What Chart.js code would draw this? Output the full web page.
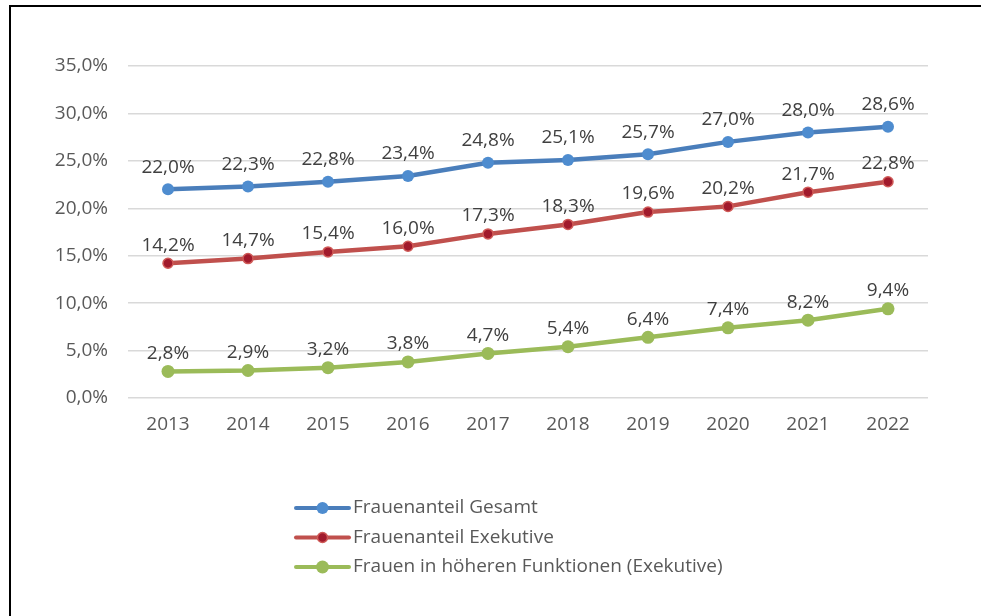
<!DOCTYPE html>
<html>
<head>
<meta charset="utf-8">
<script src="https://cdn.jsdelivr.net/npm/chart.js@4/dist/chart.umd.min.js"></script>
<style>
  html, body { margin: 0; padding: 0; background: #fff; }
  #wrap { position: relative; width: 981px; height: 616px; overflow: hidden; }
  #frame { position: absolute; left: 9px; top: 5px; width: 990px; height: 700px;
           border-top: 2px solid #000; border-left: 2px solid #000; }
  canvas { position: absolute; left: 0; top: 0; }
</style>
</head>
<body>
<div id="wrap">
  <div id="frame"></div>
  <canvas id="chart" width="981" height="616"></canvas>
</div>
<script>
// Daten (Prozent)
const years = ['2013', '2014', '2015', '2016', '2017', '2018', '2019', '2020', '2021', '2022'];
const gesamt = [22.0, 22.3, 22.8, 23.4, 24.8, 25.1, 25.7, 27.0, 28.0, 28.6];
const exekutive = [14.2, 14.7, 15.4, 16.0, 17.3, 18.3, 19.6, 20.2, 21.7, 22.8];
const hoehere = [2.8, 2.9, 3.2, 3.8, 4.7, 5.4, 6.4, 7.4, 8.2, 9.4];
const seriesNames = ['Frauenanteil Gesamt', 'Frauenanteil Exekutive', 'Frauen in höheren Funktionen (Exekutive)'];

const FONT = '"Open Sans", Lato, sans-serif';
const fmt = v => v.toFixed(1).replace('.', ',') + '%';

// Datenbeschriftungen über den Punkten
const labelPlugin = {
  id: 'labels',
  afterDatasetsDraw(chart) {
    const ctx = chart.ctx;
    ctx.save();
    ctx.font = '19px ' + FONT;
    ctx.fillStyle = '#404040';
    ctx.textAlign = 'center';
    ctx.textBaseline = 'middle';
    chart.data.datasets.forEach((ds, i) => {
      chart.getDatasetMeta(i).data.forEach((pt, j) => {
        ctx.fillText(fmt(ds.data[j]), pt.x, pt.y - ds.labelOffset);
      });
    });
    ctx.restore();
  }
};

// Legende untereinander, wie im Original
const legendPlugin = {
  id: 'stackLegend',
  afterDraw(chart) {
    const ctx = chart.ctx;
    const x0 = 296, y0 = 508, gap = 29.5;
    ctx.save();
    chart.data.datasets.forEach((ds, i) => {
      const y = y0 + i * gap;
      ctx.strokeStyle = ds.borderColor;
      ctx.lineWidth = 4;
      ctx.lineCap = 'round';
      ctx.beginPath();
      ctx.moveTo(x0, y);
      ctx.lineTo(x0 + 53, y);
      ctx.stroke();
      ctx.beginPath();
      ctx.arc(x0 + 26.5, y, ds.pointRadius, 0, Math.PI * 2);
      ctx.fillStyle = ds.pointBackgroundColor;
      ctx.fill();
      if (ds.pointBorderWidth) {
        ctx.lineWidth = ds.pointBorderWidth;
        ctx.strokeStyle = ds.pointBorderColor;
        ctx.stroke();
      }
      ctx.font = '19px ' + FONT;
      ctx.fillStyle = '#595959';
      ctx.textAlign = 'left';
      ctx.textBaseline = 'middle';
      ctx.fillText(ds.label, x0 + 57, y);
    });
    ctx.restore();
  }
};

new Chart(document.getElementById('chart'), {
  type: 'line',
  data: {
    labels: years,
    datasets: [
      {
        label: seriesNames[0], data: gesamt,
        borderColor: '#4a7ebb', borderWidth: 4.5,
        pointBackgroundColor: '#4e8ccf', pointBorderColor: '#4e8ccf', pointBorderWidth: 0,
        pointRadius: 6, labelOffset: 22
      },
      {
        label: seriesNames[1], data: exekutive,
        borderColor: '#c0504d', borderWidth: 4.5,
        pointBackgroundColor: '#a11a2c', pointBorderColor: '#cf5a57', pointBorderWidth: 1.5,
        pointRadius: 5, labelOffset: 18
      },
      {
        label: seriesNames[2], data: hoehere,
        borderColor: '#9bbb59', borderWidth: 4.5,
        pointBackgroundColor: '#9bbb59', pointBorderColor: '#9bbb59', pointBorderWidth: 0,
        pointRadius: 6.5, labelOffset: 18
      }
    ]
  },
  options: {
    responsive: false,
    animation: false,
    layout: { padding: { left: 0, right: 53, top: 66, bottom: 0 } },
    plugins: { legend: { display: false }, tooltip: { enabled: false } },
    elements: { line: { tension: 0 } },
    scales: {
      x: {
        offset: true,
        grid: { display: false },
        border: { display: false },
        ticks: { color: '#595959', font: { family: FONT, size: 19 }, padding: 7 },
        afterFit: s => { s.height = 218; }
      },
      y: {
        min: 0, max: 35,
        ticks: { stepSize: 5, color: '#595959', font: { family: FONT, size: 19 }, padding: 20, callback: v => fmt(v) },
        grid: { color: '#d9d9d9', lineWidth: 1.5, drawTicks: false },
        border: { display: false },
        afterFit: s => { s.width = 128; }
      }
    }
  },
  plugins: [labelPlugin, legendPlugin]
});
</script>
</body>
</html>
